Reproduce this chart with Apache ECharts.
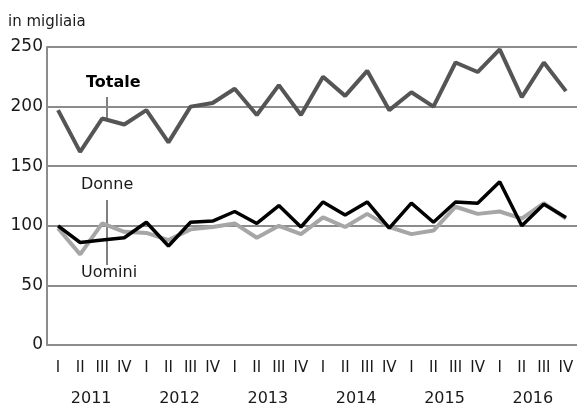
<!DOCTYPE html>
<html>
<head>
<meta charset="utf-8">
<script src="https://cdn.jsdelivr.net/npm/echarts@6/dist/echarts.min.js"></script>
<style>html,body{margin:0;padding:0;background:#fff}#c{width:577px;height:407px}</style>
</head>
<body>
<div id="c"></div>
<script>
var quarters = ['I','II','III','IV','I','II','III','IV','I','II','III','IV','I','II','III','IV','I','II','III','IV','I','II','III','IV'];
var years = ['2011','2012','2013','2014','2015','2016'];
var yTicks = [0, 50, 100, 150, 200, 250];
var totale = [197,162,190,185,197,170,200,203,215,193,218,193,225,209,230,197,212,200,237,229,248,208,237,213];
var uomini = [100,86,88,90,103,83,103,104,112,102,117,99,120,109,120,98,119,103,120,119,137,100,118,107];
var donne  = [98,76,102,95,94,88,97,99,102,90,100,93,107,99,110,99,93,96,116,110,112,106,119,106];

var FONT = 'DejaVu Sans';
var chart = echarts.init(document.getElementById('c'), null, {renderer: 'canvas'});
chart.setOption({
  animation: false,
  backgroundColor: '#fff',
  textStyle: {fontFamily: FONT},
  grid: {left: 47, top: 47, width: 533, bottom: 61, containLabel: false},
  xAxis: [{
    type: 'category', data: quarters, boundaryGap: true,
    axisLine: {show: true, lineStyle: {color: '#8c8c8c', width: 2}},
    axisTick: {show: false},
    axisLabel: {color: '#1a1a1a', fontSize: 15, fontFamily: FONT, margin: 16, interval: 0}
  }, {
    type: 'category', data: years, position: 'bottom', offset: 30, boundaryGap: true,
    axisLine: {show: false}, axisTick: {show: false},
    axisLabel: {color: '#1a1a1a', fontSize: 16, fontFamily: FONT, margin: 16, interval: 0}
  }],
  yAxis: {
    type: 'value', min: yTicks[0], max: yTicks[yTicks.length-1], interval: 50,
    axisLine: {show: true, lineStyle: {color: '#8c8c8c', width: 2}},
    axisTick: {show: false},
    axisLabel: {color: '#1a1a1a', fontSize: 17, fontFamily: FONT, margin: 4},
    splitLine: {show: true, lineStyle: {color: '#8c8c8c', width: 2}}
  },
  series: [
    {name: 'Totale', type: 'line', data: totale, symbol: 'none', lineStyle: {color: '#555555', width: 4}, z: 3},
    {name: 'Donne', type: 'line', data: donne, symbol: 'none', lineStyle: {color: '#a6a6a6', width: 4}, z: 3},
    {name: 'Uomini', type: 'line', data: uomini, symbol: 'none', lineStyle: {color: '#000000', width: 3.5}, z: 4}
  ],
  graphic: [
    {type: 'text', left: 8, top: 15, style: {text: 'in migliaia', fontSize: 15, fontFamily: FONT, fill: '#1a1a1a'}},
    {type: 'text', left: 86, top: 75, style: {text: 'Totale', fontSize: 16, fontWeight: 'bold', fontFamily: FONT, fill: '#000'}},
    {type: 'line', shape: {x1: 107, y1: 97, x2: 107, y2: 119}, style: {stroke: '#000', lineWidth: 1}},
    {type: 'text', left: 81, top: 177, style: {text: 'Donne', fontSize: 16, fontFamily: FONT, fill: '#1a1a1a'}},
    {type: 'line', shape: {x1: 107, y1: 200, x2: 107, y2: 265}, style: {stroke: '#000', lineWidth: 1}},
    {type: 'text', left: 81, top: 265, style: {text: 'Uomini', fontSize: 16, fontFamily: FONT, fill: '#1a1a1a'}}
  ]
});
</script>
</body>
</html>
